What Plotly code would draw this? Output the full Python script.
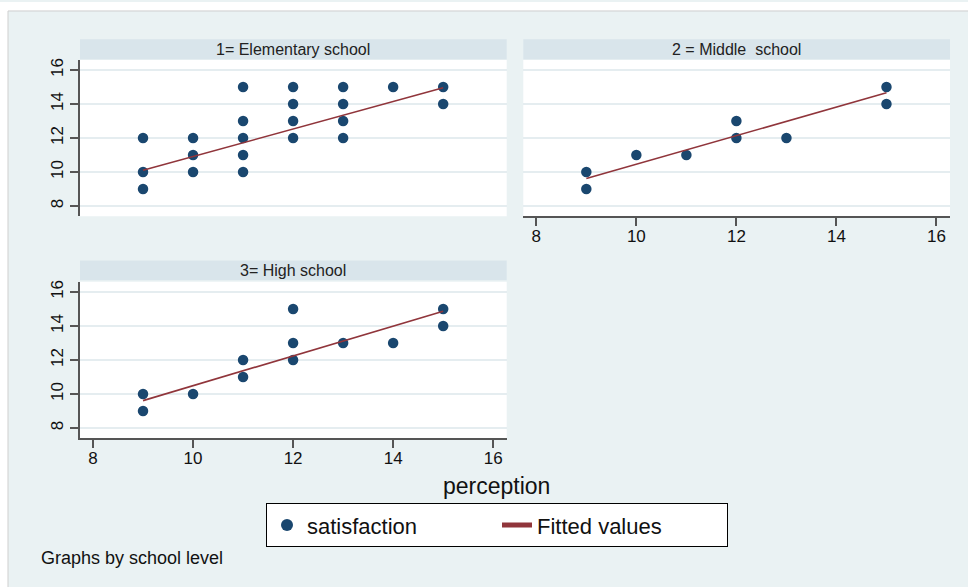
import plotly.graph_objects as go

W, H = 968, 587

# Elementary school
elem_perception = [9, 9, 9, 10, 10, 10, 11, 11, 11, 11, 11, 12, 12, 12, 12, 13, 13, 13, 13, 14, 15, 15]
elem_satisfaction = [12, 10, 9, 12, 11, 10, 15, 13, 12, 11, 10, 15, 14, 13, 12, 15, 14, 13, 12, 15, 15, 14]
elem_fit_x = [9, 15]
elem_fit_y = [10.1, 14.96]

# Middle school
mid_perception = [9, 9, 10, 11, 12, 12, 13, 15, 15]
mid_satisfaction = [10, 9, 11, 11, 13, 12, 12, 15, 14]
mid_fit_x = [9, 15]
mid_fit_y = [9.62, 14.66]

# High school
high_perception = [9, 9, 10, 11, 11, 12, 12, 12, 13, 14, 15, 15]
high_satisfaction = [10, 9, 10, 12, 11, 15, 13, 12, 13, 13, 15, 14]
high_fit_x = [9, 15]
high_fit_y = [9.61, 14.87]

panel_titles = ["1= Elementary school", "2 = Middle\u00a0 school", "3= High school"]
tick_values = [8, 10, 12, 14, 16]

NAVY = "#1a476f"
MAROON = "#90353b"
BG = "#eaf2f3"
STRIP = "#d9e5eb"
GRID = "#e5edf0"
AXIS = "#555555"
FONT = "Liberation Sans, Arial, sans-serif"


def fx(px):
    return px / W


def fy(py):
    return 1 - py / H


fig = go.Figure()

panels = [
    (elem_perception, elem_satisfaction, elem_fit_x, elem_fit_y, "x", "y", True),
    (mid_perception, mid_satisfaction, mid_fit_x, mid_fit_y, "x2", "y2", False),
    (high_perception, high_satisfaction, high_fit_x, high_fit_y, "x3", "y3", False),
]
for px_, py_, fx_, fy_, xa, ya, show in panels:
    fig.add_trace(go.Scatter(
        x=px_, y=py_, mode="markers", name="satisfaction",
        marker=dict(color=NAVY, size=10.5, line=dict(width=0)),
        xaxis=xa, yaxis=ya, showlegend=show, legendrank=1,
    ))
    fig.add_trace(go.Scatter(
        x=fx_, y=fy_, mode="lines", name="Fitted values",
        line=dict(color=MAROON, width=1.6),
        xaxis=xa, yaxis=ya, showlegend=show, legendrank=2,
    ))

x_range = [7.74, 16.27]
y_range = [7.4, 16.6]

left_dom = [fx(80), fx(506.7)]
right_dom = [fx(523.3), fx(950)]
top_dom = [fy(215), fy(58)]
bot_dom = [fy(437.7), fy(280.7)]

tick_font = dict(family=FONT, size=17, color="#111111")


def xaxis(domain, anchor, visible):
    return dict(
        domain=domain, anchor=anchor, range=x_range,
        tickvals=tick_values, showticklabels=visible,
        ticks="outside" if visible else "", ticklen=8, tickwidth=1.5, tickcolor=AXIS,
        ticklabelstandoff=-4,
        showline=visible, linecolor=AXIS, linewidth=1.5,
        showgrid=False, zeroline=False, tickfont=tick_font, fixedrange=True,
    )


def yaxis(domain, anchor, visible):
    return dict(
        domain=domain, anchor=anchor, range=y_range,
        tickvals=tick_values, showticklabels=visible, tickangle=-90,
        ticks="outside" if visible else "", ticklen=8, tickwidth=1.5, tickcolor=AXIS,
        showline=visible, linecolor=AXIS, linewidth=1.5,
        showgrid=True, gridcolor=GRID, gridwidth=1.5,
        zeroline=False, tickfont=tick_font, fixedrange=True,
    )


shapes = [
    # white margin at the top and left edge of the page
    dict(type="rect", xref="paper", yref="paper", x0=0, x1=1, y0=fy(9), y1=1,
         fillcolor="white", line=dict(width=0)),
    dict(type="rect", xref="paper", yref="paper", x0=0, x1=fx(8), y0=0, y1=1,
         fillcolor="white", line=dict(width=0)),
    dict(type="line", xref="paper", yref="paper", x0=fx(8), x1=1, y0=fy(9), y1=fy(9),
         line=dict(color="#cfcfcf", width=1)),
    dict(type="line", xref="paper", yref="paper", x0=fx(8), x1=fx(8), y0=0, y1=fy(9),
         line=dict(color="#cfcfcf", width=1)),
]

# panel strips with titles
strips = [
    (left_dom, 37.3, 57.7, panel_titles[0]),
    (right_dom, 37.3, 57.7, panel_titles[1]),
    (left_dom, 259.3, 279.3, panel_titles[2]),
]
annotations = []
for dom, top, bottom, title in strips:
    shapes.append(dict(type="rect", xref="paper", yref="paper",
                       x0=dom[0], x1=dom[1], y0=fy(bottom), y1=fy(top),
                       fillcolor=STRIP, line=dict(width=0)))
    annotations.append(dict(
        text=title, xref="paper", yref="paper",
        x=(dom[0] + dom[1]) / 2, y=fy((top + bottom) / 2),
        xanchor="center", yanchor="middle", showarrow=False,
        font=dict(family=FONT, size=16, color="#222222"),
    ))

annotations.append(dict(
    text="perception", xref="paper", yref="paper", x=fx(496.5), y=fy(486),
    xanchor="center", yanchor="middle", showarrow=False,
    font=dict(family=FONT, size=23, color="#111111"),
))
annotations.append(dict(
    text="Graphs by school level", xref="paper", yref="paper", x=fx(39), y=fy(558),
    xanchor="left", yanchor="middle", showarrow=False,
    font=dict(family=FONT, size=18, color="#111111"),
))

fig.update_layout(
    width=W, height=H,
    margin=dict(l=0, r=0, t=0, b=0),
    paper_bgcolor=BG, plot_bgcolor="white",
    font=dict(family=FONT),
    xaxis=xaxis(left_dom, "y", False),
    yaxis=yaxis(top_dom, "x", True),
    xaxis2=xaxis(right_dom, "y2", True),
    yaxis2=yaxis(top_dom, "x2", False),
    xaxis3=xaxis(left_dom, "y3", True),
    yaxis3=yaxis(bot_dom, "x3", True),
    shapes=shapes,
    annotations=annotations,
    showlegend=True,
    legend=dict(
        orientation="h", x=fx(266), xanchor="left", y=fy(503), yanchor="top",
        bgcolor="white", bordercolor="black", borderwidth=1,
        font=dict(family=FONT, size=22, color="#111111"),
        entrywidth=185, entrywidthmode="pixels",
        itemsizing="constant",
    ),
)

fig.write_html("out.html")
